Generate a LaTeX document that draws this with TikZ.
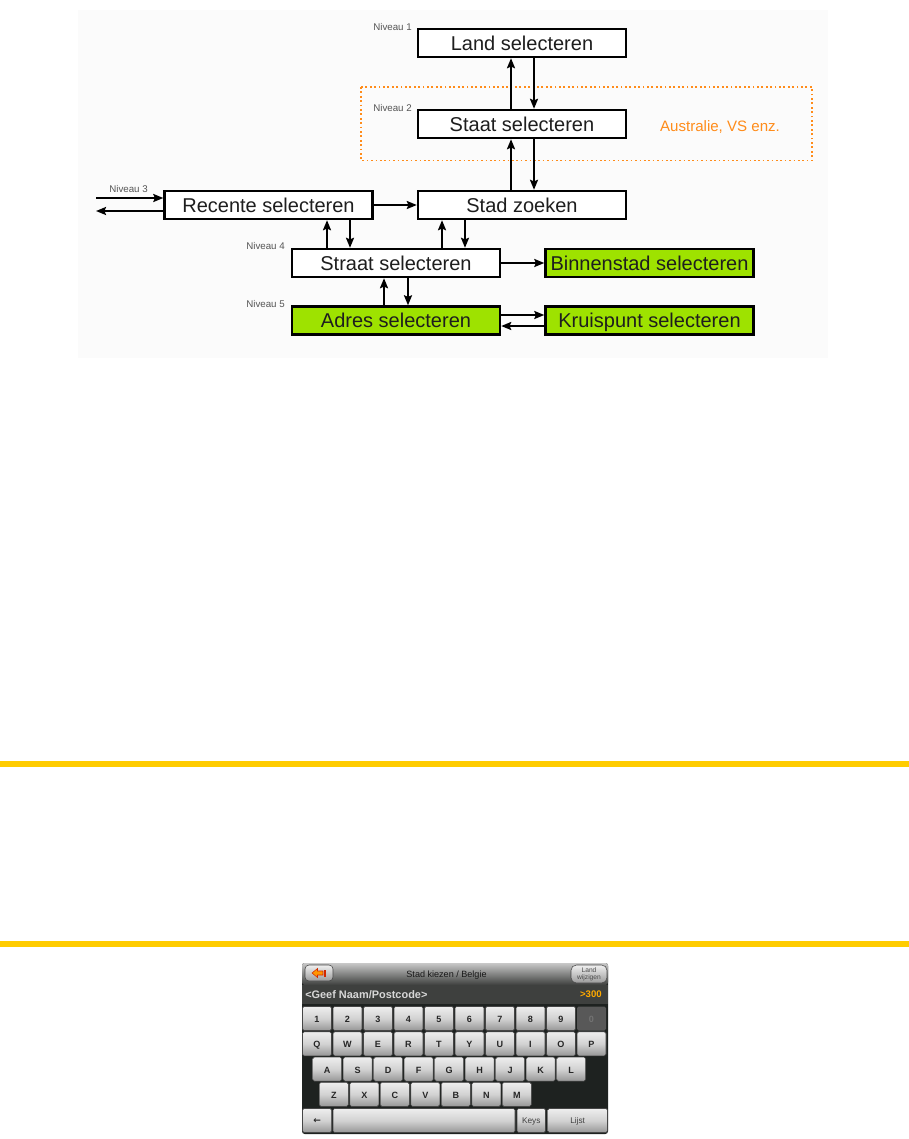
\documentclass[tikz,border=0pt]{standalone}
\usepackage{fontspec}
\setmainfont{Liberation Sans}
\newfontfamily\dejavu{DejaVu Sans}
\usetikzlibrary{arrows.meta,calc}
\definecolor{boxgreen}{RGB}{158,226,0}
\definecolor{orng}{RGB}{255,140,26}
\definecolor{yel}{RGB}{255,204,0}
\definecolor{kbdark}{RGB}{30,34,32}
\definecolor{inrow}{RGB}{62,64,62}
\definecolor{lvl}{RGB}{85,85,85}
\definecolor{cnt}{RGB}{255,170,0}
\definecolor{keytop}{RGB}{238,238,238}
\definecolor{keymid}{RGB}{210,210,210}
\definecolor{keybot}{RGB}{150,150,150}
\definecolor{keyedge}{RGB}{70,70,70}
\definecolor{diagbg}{RGB}{251,251,251}
\definecolor{titletop}{RGB}{200,200,200}
\definecolor{titlebot}{RGB}{62,64,62}
\definecolor{btntop}{RGB}{240,240,240}
\definecolor{btnbot}{RGB}{155,155,155}
\definecolor{icoorange}{RGB}{255,150,0}
\definecolor{icored}{RGB}{210,40,0}
\definecolor{inptext}{RGB}{215,215,215}
\definecolor{zerokey}{RGB}{88,88,88}
\definecolor{zerotext}{RGB}{115,115,115}
\definecolor{boxtext}{RGB}{30,30,30}
\tikzset{
  flowbox/.style={draw=black, line width=1.8pt, fill=white, inner sep=0pt,
    minimum width=156pt, minimum height=21pt, text height=10.8pt, text depth=0pt,
    font=\fontsize{15pt}{18pt}\selectfont, text=boxtext},
  greenbox/.style={flowbox, fill=boxgreen},
  lvllabel/.style={font=\fontsize{7.3pt}{8pt}\selectfont, text=lvl, inner sep=0pt},
  arr/.style={line width=1.5pt, -{Stealth[length=7.5pt,width=6pt,inset=1.2pt]}},
  keyshade/.style={top color=keytop, bottom color=keybot, middle color=keymid},
  keyline/.style={draw=keyedge, line width=0.4pt},
  keylbl/.style={font=\bfseries\fontsize{6.8pt}{8pt}\selectfont, text=black!85, inner sep=0pt},
  keysoft/.style={font=\fontsize{6.2pt}{7pt}\selectfont, text=black!75, inner sep=0pt}
}
\newcommand\kbkey[5]{% x, y, w, label, name
  \shade[keyshade, rounded corners=1.2pt] (#1,#2) rectangle ++(#3,24);
  \draw[keyline, rounded corners=1.2pt] (#1,#2) rectangle ++(#3,24);
  \node[keylbl] (#5) at ($(#1,#2)+(#3/2,13)$) {#4};}
\begin{document}
\begin{tikzpicture}[x=0.75pt,y=-0.75pt]
\useasboundingbox (0,0) rectangle (909,1139);
\fill[white] (0,0) rectangle (909,1139);
% faint diagram background
\fill[diagbg] (78,10) rectangle (828,358);

% orange dotted region
\draw[orng, line width=1.3pt, dash pattern=on 1.3pt off 2pt] (361,87) rectangle (812,160.5);
\node[font=\fontsize{11.3pt}{13pt}\selectfont, text=orng, inner sep=0pt] (aus) at (720,127) {Australie, VS enz.};

% boxes
\node[flowbox] (land) at (522,43) {Land selecteren};
\node[flowbox] (staat) at (522,124) {Staat selecteren};
\node[flowbox] (stad) at (522,205) {Stad zoeken};
\node[flowbox] (recente) at (268.5,205) {Recente selecteren};
\node[flowbox] (straat) at (396,263) {Straat selecteren};
\node[greenbox] (binnen) at (649.5,263) {Binnenstad selecteren};
\node[greenbox] (adres) at (396,320.5) {Adres selecteren};
\node[greenbox] (kruis) at (649.5,320.5) {Kruispunt selecteren};

% level labels
\node[lvllabel, anchor=east] (n1) at (412,27) {Niveau 1};
\node[lvllabel, anchor=east] (n2) at (412,108.5) {Niveau 2};
\node[lvllabel, anchor=east] (n3) at (148,189) {Niveau 3};
\node[lvllabel, anchor=east] (n4) at (285,246.5) {Niveau 4};
\node[lvllabel, anchor=east] (n5) at (285,304.5) {Niveau 5};

% connectors
\draw[arr] ($(staat.north)+(-11,0)$) -- ($(land.south)+(-11,0)$);
\draw[arr] ($(land.south)+(12,0)$) -- ($(staat.north)+(12,0)$);
\draw[arr] ($(stad.north)+(-11,0)$) -- ($(staat.south)+(-11,0)$);
\draw[arr] ($(staat.south)+(12,0)$) -- ($(stad.north)+(12,0)$);
\draw[arr] ($(straat.north)+(46,0)$) -- ($(stad.south)+(-80,0)$);
\draw[arr] ($(stad.south)+(-57,0)$) -- ($(straat.north)+(69,0)$);
\draw[arr] ($(straat.north)+(-69,0)$) -- ($(recente.south)+(58.5,0)$);
\draw[arr] ($(recente.south)+(81.5,0)$) -- ($(straat.north)+(-46,0)$);
\draw[arr] ($(adres.north)+(-12,0)$) -- ($(straat.south)+(-12,0)$);
\draw[arr] ($(straat.south)+(12,0)$) -- ($(adres.north)+(12,0)$);
\coordinate (inL) at (96,198);
\coordinate (outL) at (96,211);
\draw[arr] (inL) -- ($(recente.west)+(0,-7)$);
\draw[arr] ($(recente.west)+(0,6)$) -- (outL);
\draw[arr] (recente.east) -- (stad.west);
\draw[arr] (straat.east) -- (binnen.west);
\draw[arr] ($(adres.east)+(0,-5.5)$) -- ($(kruis.west)+(0,-5.5)$);
\draw[arr] ($(kruis.west)+(0,5.5)$) -- ($(adres.east)+(0,5.5)$);

% yellow rules
\fill[yel] (0,761) rectangle (909,767);
\fill[yel] (0,941) rectangle (909,947);

% ---------- keyboard screenshot ----------
\fill[kbdark, rounded corners=2pt] (302,963) rectangle (608,1134);
\shade[top color=titletop, bottom color=titlebot, rounded corners=2pt] (302,963) rectangle (608,985);
\node[font=\fontsize{6.8pt}{8pt}\selectfont, text=black!90, inner sep=0pt] (title) at (446.5,975) {Stad kiezen / Belgie};
% back button
\shade[top color=btntop, bottom color=btnbot, rounded corners=3pt] (305,965) rectangle (333,981);
\draw[keyedge, line width=0.4pt, rounded corners=3pt] (305,965) rectangle (333,981);
\filldraw[fill=icoorange, draw=icored, line width=0.4pt]
  (312,973) -- (317.5,968.5) -- (317.5,971) -- (323,971) -- (323,975) -- (317.5,975) -- (317.5,977.5) -- cycle;
\fill[icored] (324.3,969.5) rectangle (325.6,976.5);
% Land wijzigen button
\shade[top color=btntop, bottom color=btnbot, rounded corners=4pt] (571,965) rectangle (607,983);
\draw[keyedge, line width=0.4pt, rounded corners=4pt] (571,965) rectangle (607,983);
\node[font=\fontsize{5pt}{5.6pt}\selectfont, text=black!70, align=center, inner sep=0pt] (landw) at (589,974) {Land\\wijzigen};
% input row
\fill[inrow] (302,985) rectangle (608,1004);
\node[font=\bfseries\fontsize{8.2pt}{9pt}\selectfont, text=inptext, anchor=west, inner sep=0pt] (inp) at (305,994.5) {<Geef Naam/Postcode>};
\node[font=\bfseries\fontsize{7.2pt}{8pt}\selectfont, text=cnt, anchor=east, inner sep=0pt] (cnt) at (602,994.5) {>300};
% number row
\foreach \l [count=\i from 0] in {1,2,3,4,5,6,7,8,9} {
  \pgfmathsetmacro\kx{302.5+30.5*\i}
  \kbkey{\kx}{1006.5}{29}{\l}{kn\i}
}
\fill[zerokey, rounded corners=1.2pt] (577,1006.5) rectangle ++(29,24);
\node[keylbl, text=zerotext] (kn9) at (591.5,1019.5) {0};
% qwerty row
\foreach \l [count=\i from 0] in {Q,W,E,R,T,Y,U,I,O,P} {
  \pgfmathsetmacro\kx{302.5+30.5*\i}
  \kbkey{\kx}{1031.8}{29}{\l}{kq\i}
}
\foreach \l [count=\i from 0] in {A,S,D,F,G,H,J,K,L} {
  \pgfmathsetmacro\kx{312.7+30.5*\i}
  \kbkey{\kx}{1057.1}{29}{\l}{ka\i}
}
\foreach \l [count=\i from 0] in {Z,X,C,V,B,N,M} {
  \pgfmathsetmacro\kx{319.3+30.5*\i}
  \kbkey{\kx}{1082.4}{29}{\l}{kz\i}
}
% bottom row
\kbkey{302.5}{1108.5}{29.2}{\dejavu\bfseries ←}{kback}
\kbkey{333}{1108.5}{182}{}{kspace}
\shade[keyshade, rounded corners=1.2pt] (517,1108.5) rectangle ++(28.5,24);
\draw[keyline, rounded corners=1.2pt] (517,1108.5) rectangle ++(28.5,24);
\node[keysoft] (kkeys) at (531.2,1121) {Keys};
\shade[keyshade, rounded corners=1.2pt] (547.7,1108.5) rectangle ++(59.8,24);
\draw[keyline, rounded corners=1.2pt] (547.7,1108.5) rectangle ++(59.8,24);
\node[keysoft] (klijst) at (577.6,1121) {Lijst};
\end{tikzpicture}
\end{document}
